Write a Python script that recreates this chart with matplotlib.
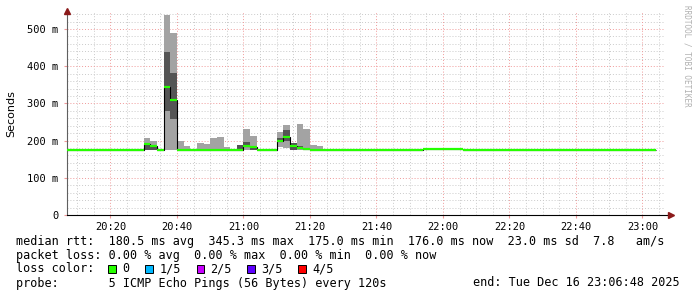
import numpy as np
import matplotlib
matplotlib.use('Agg')
import matplotlib.pyplot as plt
from matplotlib.patches import Rectangle

# times are minutes after 20:00, one step every 2 min (120 s)
step_start = list(range(6, 184, 2))
base_rtt = 175.0

# busy window 20:30 .. 21:22 (ms), five sorted pings: min, 2nd, median, 4th, max
busy_start = list(range(30, 84, 2))
busy_min = [175, 175, 175, 175, 175, 175, 175, 175, 175, 175, 175, 175, 175, 175,
            175, 175, 175, 175, 175, 175, 182, 181, 175, 175, 175, 175, 175]
busy_lo = [176, 176, 175, 280, 258, 175, 175, 175, 175, 175, 175, 175, 175, 175,
           176, 184, 176, 175, 175, 175, 196, 199, 175, 179, 177, 175, 175]
busy_med = [191, 186, 175, 345, 309, 175, 175, 175, 175, 175, 175, 175, 175, 175,
            176, 185, 184, 175, 175, 175, 200, 209, 185, 179, 178, 176, 176]
busy_hi = [191, 188, 175, 438, 383, 176, 176, 175, 176, 176, 176, 176, 176, 175,
           188, 196, 185, 175, 175, 175, 207, 228, 193, 185, 181, 176, 176]
busy_max = [208, 199, 175, 538, 488, 200, 186, 175, 194, 191, 208, 210, 184, 175,
            188, 231, 212, 175, 175, 175, 222, 242, 194, 245, 231, 188, 185]

# slightly higher median 21:54 .. 22:06
bump_start = [114, 116, 118, 120, 122, 124]
bump_med = [176.5, 176.5, 176.5, 176.5, 176.5, 176.5]

y_ticks = [0, 100, 200, 300, 400, 500]
x_ticks = [20, 40, 60, 80, 100, 120, 140, 160, 180]

legend_lines = [
    'median rtt:  180.5 ms avg  345.3 ms max  175.0 ms min  176.0 ms now  23.0 ms sd  7.8   am/s',
    'packet loss: 0.00 % avg  0.00 % max  0.00 % min  0.00 % now',
    'loss color:',
    'probe:       5 ICMP Echo Pings (56 Bytes) every 120s',
]
loss_labels = ['0', '1/5', '2/5', '3/5', '4/5']
loss_colors = ['#26ff00', '#00b8ff', '#c800ff', '#5e00ff', '#ff0000']
end_text = 'end: Tue Dec 16 23:06:48 2025'

# build the full series
n = len(step_start)
p_min = np.full(n, base_rtt)
p_lo = np.full(n, base_rtt)
p_med = np.full(n, base_rtt)
p_hi = np.full(n, base_rtt)
p_max = np.full(n, base_rtt)
for i, t in enumerate(busy_start):
    k = step_start.index(t)
    p_min[k], p_lo[k], p_med[k] = busy_min[i], busy_lo[i], busy_med[i]
    p_hi[k], p_max[k] = busy_hi[i], busy_max[i]
for i, t in enumerate(bump_start):
    p_med[step_start.index(t)] = bump_med[i]
edges = np.array(step_start + [step_start[-1] + 2], dtype=float)

W, H = 697, 297
fig = plt.figure(figsize=(W / 100, H / 100), dpi=100)
x0, x1, y0, y1 = 66.6, 665.1, 215.0, 12.3
ax = fig.add_axes([x0 / W, 1 - y0 / H, (x1 - x0) / W, (y0 - y1) / H])
ax.set_xlim(6.8, 186.8)
ax.set_ylim(0, 545)

mono = 'DejaVu Sans Mono'

# grid
grid_dots = (0, (1, 2))
for v in range(0, 545, 20):
    if v % 100:
        ax.axhline(v, color='#cacaca', lw=0.7, ls=grid_dots, zorder=0)
for v in range(10, 187, 5):
    if v % 20:
        ax.axvline(v, color='#cacaca', lw=0.7, ls=grid_dots, zorder=0)
for v in y_ticks[1:]:
    ax.axhline(v, color='#f09a9a', lw=0.7, ls=grid_dots, zorder=0)
for v in x_ticks:
    ax.axvline(v, color='#f09a9a', lw=0.7, ls=grid_dots, zorder=0)

# smoke
ax.stairs(p_max, edges, baseline=p_min, fill=True, color='#a3a3a3', lw=0, zorder=2)
ax.stairs(p_hi, edges, baseline=p_lo, fill=True, color='#555555', lw=0, zorder=3)
# median
ax.stairs(p_med, edges, baseline=None, color='black', lw=0.8, zorder=4)
ax.hlines(p_med, edges[:-1], edges[1:], color=loss_colors[0], lw=1.6, zorder=5)

# axes
for s in ['top', 'right']:
    ax.spines[s].set_visible(False)
ax.spines['left'].set_color('#606060')
ax.spines['bottom'].set_color('black')
ax.spines['bottom'].set_bounds(6.8, 188.5)
ax.plot([6.8], [549], marker='^', color='#8b1a1a', ms=4, clip_on=False, zorder=6)
ax.plot([188.7], [0], marker='>', color='#8b1a1a', ms=4, clip_on=False, zorder=6)

ax.set_yticks(y_ticks)
ax.set_yticklabels(['0'] + ['%d m' % v for v in y_ticks[1:]], family=mono, fontsize=7.5)
ax.set_xticks(x_ticks)
ax.set_xticklabels(['%d:%02d' % (20 + v // 60, v % 60) for v in x_ticks], family=mono, fontsize=7.5)
ax.tick_params(axis='both', length=2, color='#f09a9a', pad=3)
ax.tick_params(axis='y', pad=4)
ax.set_ylabel('Seconds', fontsize=8, labelpad=8)

fig.text(687 / W, 1 - 5 / H, 'RRDTOOL / TOBI OETIKER', rotation=270, ha='center', va='top',
         family=mono, fontsize=5.5, color='#b0b0b0')

# legend text
fs = 8.5
for i, line in enumerate(legend_lines):
    fig.text(16 / W, 1 - (241 + 14 * i) / H, line, family=mono, fontsize=fs, va='center', ha='left')
fig.text(680 / W, 1 - 283 / H, end_text, family=mono, fontsize=fs, va='center', ha='right')

box_x = [108, 145, 196.5, 247, 298]
text_x = [122.5, 160, 210, 261.5, 312]
for bx, tx, lab, col in zip(box_x, text_x, loss_labels, loss_colors):
    fig.patches.append(Rectangle((bx / W, 1 - 272.7 / H), 7.5 / W, 7.5 / H, facecolor=col,
                                 edgecolor='black', lw=0.7, transform=fig.transFigure, figure=fig))
    fig.text(tx / W, 1 - 269 / H, lab, family=mono, fontsize=fs, va='center', ha='left')

fig.savefig('out.png', dpi=100)
